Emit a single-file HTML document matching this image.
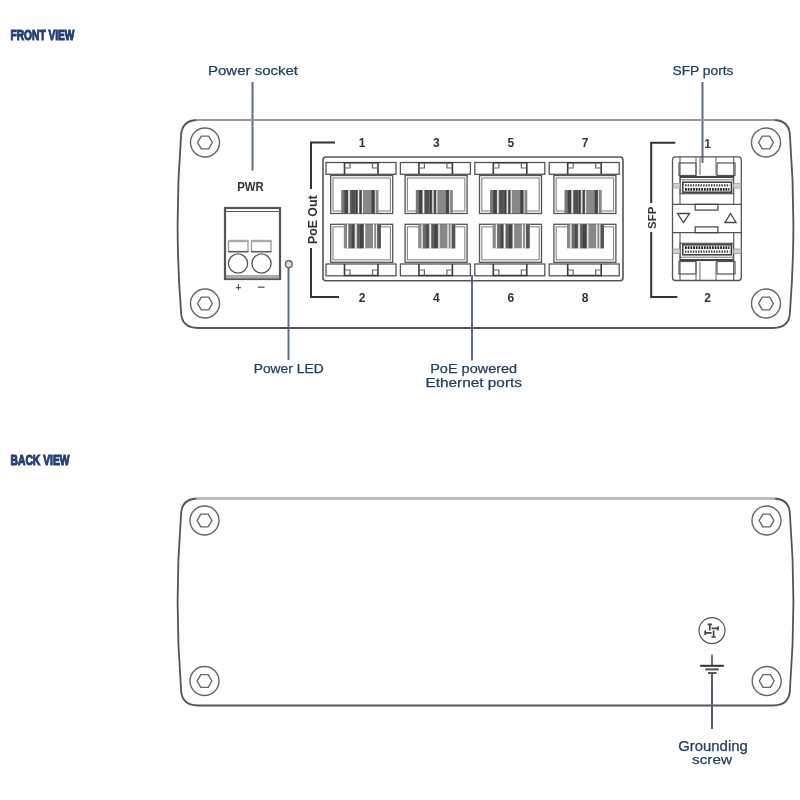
<!DOCTYPE html><html><head><meta charset="utf-8"><style>html,body{margin:0;padding:0;background:#fff;width:800px;height:800px;overflow:hidden}svg{display:block;will-change:transform}text{font-family:"Liberation Sans",sans-serif}</style></head><body>
<svg width="800" height="800" viewBox="0 0 800 800">
<rect width="800" height="800" fill="#fff"/>
<text x="10.5" y="40" font-size="15.2" font-weight="bold" fill="#233f74" stroke="#233f74" stroke-width="1.15" textLength="64" lengthAdjust="spacingAndGlyphs">FRONT VIEW</text>
<text x="10.5" y="465" font-size="15.2" font-weight="bold" fill="#233f74" stroke="#233f74" stroke-width="1.15" textLength="59" lengthAdjust="spacingAndGlyphs">BACK VIEW</text>
<text x="253" y="75.3" font-size="13.6" fill="#23405f" stroke="#23405f" stroke-width="0.25" text-anchor="middle" textLength="90" lengthAdjust="spacingAndGlyphs">Power socket</text>
<text x="703" y="75.4" font-size="13.6" fill="#23405f" stroke="#23405f" stroke-width="0.25" text-anchor="middle" textLength="61" lengthAdjust="spacingAndGlyphs">SFP ports</text>
<text x="288.7" y="372.5" font-size="13.6" fill="#23405f" stroke="#23405f" stroke-width="0.25" text-anchor="middle" textLength="70" lengthAdjust="spacingAndGlyphs">Power LED</text>
<text x="473.7" y="372.8" font-size="13.6" fill="#23405f" stroke="#23405f" stroke-width="0.25" text-anchor="middle" textLength="87" lengthAdjust="spacingAndGlyphs">PoE powered</text>
<text x="473.7" y="386.6" font-size="13.6" fill="#23405f" stroke="#23405f" stroke-width="0.25" text-anchor="middle" textLength="96.6" lengthAdjust="spacingAndGlyphs">Ethernet ports</text>
<text x="713" y="751" font-size="14.2" fill="#23405f" stroke="#23405f" stroke-width="0.25" text-anchor="middle" textLength="69.5" lengthAdjust="spacingAndGlyphs">Grounding</text>
<text x="712" y="763.5" font-size="13.6" fill="#23405f" stroke="#23405f" stroke-width="0.25" text-anchor="middle" textLength="40" lengthAdjust="spacingAndGlyphs">screw</text>
<line x1="252.5" y1="82" x2="252.5" y2="170.5" stroke="#5f6c86" stroke-width="2"/>
<line x1="702.5" y1="82" x2="702.5" y2="163" stroke="#5f6c86" stroke-width="2"/>
<line x1="288.5" y1="268" x2="288.5" y2="360" stroke="#5f6c86" stroke-width="2"/>
<line x1="472" y1="275" x2="472" y2="360.6" stroke="#5f6c86" stroke-width="2"/>
<path d="M 198 120 L 773 120 Q 790 120 790 137 Q 796.8 224.0 790 311 Q 790 328 773 328 L 198 328 Q 181 328 181 311 Q 174.2 224.0 181 137 Q 181 120 198 120 Z" fill="none" stroke="#555" stroke-width="1.8"/>
<line x1="196" y1="120" x2="775" y2="120" stroke="#999" stroke-width="2.2"/>
<circle cx="205" cy="142.5" r="14.5" fill="none" stroke="#666" stroke-width="1.4"/>
<polygon points="212.40,142.50 208.70,148.91 201.30,148.91 197.60,142.50 201.30,136.09 208.70,136.09" fill="none" stroke="#666" stroke-width="1.4" stroke-linejoin="round"/>
<circle cx="766" cy="142.5" r="14.5" fill="none" stroke="#666" stroke-width="1.4"/>
<polygon points="773.40,142.50 769.70,148.91 762.30,148.91 758.60,142.50 762.30,136.09 769.70,136.09" fill="none" stroke="#666" stroke-width="1.4" stroke-linejoin="round"/>
<circle cx="205" cy="303.5" r="14.5" fill="none" stroke="#666" stroke-width="1.4"/>
<polygon points="212.40,303.50 208.70,309.91 201.30,309.91 197.60,303.50 201.30,297.09 208.70,297.09" fill="none" stroke="#666" stroke-width="1.4" stroke-linejoin="round"/>
<circle cx="766" cy="303.5" r="14.5" fill="none" stroke="#666" stroke-width="1.4"/>
<polygon points="773.40,303.50 769.70,309.91 762.30,309.91 758.60,303.50 762.30,297.09 769.70,297.09" fill="none" stroke="#666" stroke-width="1.4" stroke-linejoin="round"/>
<text x="250.5" y="191.3" font-size="12.2" font-weight="bold" fill="#333" text-anchor="middle" textLength="26.5" lengthAdjust="spacingAndGlyphs">PWR</text>
<rect x="225" y="208" width="55" height="71" fill="none" stroke="#555" stroke-width="2.2"/>
<line x1="225" y1="211.5" x2="280" y2="211.5" stroke="#555" stroke-width="1.2"/>
<line x1="225" y1="276" x2="280" y2="276" stroke="#555" stroke-width="1.2"/>
<rect x="228.5" y="241" width="19.5" height="10.5" fill="none" stroke="#999" stroke-width="1.3"/>
<rect x="251.5" y="241" width="19.5" height="10.5" fill="none" stroke="#999" stroke-width="1.3"/>
<line x1="228" y1="241" x2="248.5" y2="241" stroke="#aaa" stroke-width="2.4"/>
<line x1="251" y1="241" x2="271.5" y2="241" stroke="#aaa" stroke-width="2.4"/>
<line x1="228" y1="251.8" x2="248.5" y2="251.8" stroke="#555" stroke-width="1.3"/>
<line x1="251" y1="251.8" x2="271.5" y2="251.8" stroke="#555" stroke-width="1.3"/>
<rect x="226" y="275.5" width="53" height="3" fill="#aaa"/>
<circle cx="238" cy="263.5" r="9.6" fill="none" stroke="#555" stroke-width="1.3"/>
<circle cx="261.5" cy="263.5" r="9.6" fill="none" stroke="#555" stroke-width="1.3"/>
<text x="238.3" y="291" font-size="10" font-weight="bold" fill="#555" text-anchor="middle">+</text>
<line x1="258" y1="287.2" x2="264.5" y2="287.2" stroke="#666" stroke-width="1.4"/>
<circle cx="288.8" cy="264.2" r="3.4" fill="#ddd" stroke="#666" stroke-width="1.4"/>
<path d="M 335 142.5 L 311 142.5 L 311 189" fill="none" stroke="#333" stroke-width="2"/>
<path d="M 311 248 L 311 297 L 339 297" fill="none" stroke="#333" stroke-width="2"/>
<text transform="translate(316.8 219.7) rotate(-90)" font-size="12.6" font-weight="bold" fill="#333" text-anchor="middle" textLength="48.5" lengthAdjust="spacingAndGlyphs">PoE Out</text>
<rect x="323" y="157" width="300" height="123.7" rx="3" fill="none" stroke="#555" stroke-width="1.6"/>
<rect x="326.0" y="162.5" width="70" height="11.8" fill="none" stroke="#555" stroke-width="1.3"/>
<path d="M 344.5 174 L 344.5 162.8 L 378.0 162.8 L 378.0 174" fill="none" stroke="#3a3a3a" stroke-width="1.6"/>
<path d="M 344.5 168 H 350.0 V 162.8 M 378.0 168 H 372.5 V 162.8" fill="none" stroke="#666" stroke-width="1.2"/>
<rect x="330.7" y="175.5" width="62" height="38" fill="none" stroke="#555" stroke-width="1.3"/>
<rect x="333.0" y="178" width="57.4" height="33" fill="none" stroke="#888" stroke-width="1.1"/>
<rect x="330.7" y="224.3" width="62" height="38" fill="none" stroke="#555" stroke-width="1.3"/>
<rect x="333.0" y="226.8" width="57.4" height="33" fill="none" stroke="#888" stroke-width="1.1"/>
<rect x="341.5" y="190" width="37" height="23.3" fill="#888"/>
<rect x="341.5" y="190" width="3.0" height="23.3" fill="#777"/>
<rect x="344.5" y="190" width="3.5" height="23.3" fill="#444"/>
<rect x="350.5" y="190" width="4.5" height="23.3" fill="#505050"/>
<rect x="355.5" y="190" width="1.8" height="23.3" fill="#3a3a3a"/>
<rect x="359.7" y="190" width="1.8" height="23.3" fill="#444"/>
<rect x="371.5" y="190" width="3.0" height="23.3" fill="#444"/>
<rect x="348.3" y="190" width="1.4" height="23.3" fill="#f4f4f4"/>
<rect x="358.0" y="190" width="1.0" height="23.3" fill="#f4f4f4"/>
<rect x="362.0" y="190" width="1.0" height="23.3" fill="#f4f4f4"/>
<rect x="375.0" y="190" width="0.7" height="23.3" fill="#f4f4f4"/>
<rect x="343.8" y="224.3" width="37" height="24" fill="#888"/>
<rect x="348.3" y="224.3" width="3.5" height="24" fill="#6a6a6a"/>
<rect x="351.8" y="224.3" width="2.5" height="24" fill="#484848"/>
<rect x="357.3" y="224.3" width="2.5" height="24" fill="#5e5e5e"/>
<rect x="359.8" y="224.3" width="3.5" height="24" fill="#444"/>
<rect x="377.3" y="224.3" width="3.5" height="24" fill="#555"/>
<rect x="347.0" y="224.3" width="1.3" height="24" fill="#f4f4f4"/>
<rect x="355.1" y="224.3" width="1.5" height="24" fill="#f4f4f4"/>
<rect x="364.0" y="224.3" width="1.3" height="24" fill="#f4f4f4"/>
<rect x="373.0" y="224.3" width="1.3" height="24" fill="#f4f4f4"/>
<rect x="376.1" y="224.3" width="1.0" height="24" fill="#f4f4f4"/>
<rect x="326.0" y="264" width="70" height="11.8" fill="none" stroke="#555" stroke-width="1.3"/>
<path d="M 344.5 264 L 344.5 275.5 L 378.0 275.5 L 378.0 264" fill="none" stroke="#3a3a3a" stroke-width="1.6"/>
<path d="M 344.5 270 H 350.0 V 275.5 M 378.0 270 H 372.5 V 275.5" fill="none" stroke="#666" stroke-width="1.2"/>
<rect x="400.4" y="162.5" width="70" height="11.8" fill="none" stroke="#555" stroke-width="1.3"/>
<path d="M 418.9 174 L 418.9 162.8 L 452.4 162.8 L 452.4 174" fill="none" stroke="#3a3a3a" stroke-width="1.6"/>
<path d="M 418.9 168 H 424.4 V 162.8 M 452.4 168 H 446.9 V 162.8" fill="none" stroke="#666" stroke-width="1.2"/>
<rect x="405.09999999999997" y="175.5" width="62" height="38" fill="none" stroke="#555" stroke-width="1.3"/>
<rect x="407.4" y="178" width="57.4" height="33" fill="none" stroke="#888" stroke-width="1.1"/>
<rect x="405.09999999999997" y="224.3" width="62" height="38" fill="none" stroke="#555" stroke-width="1.3"/>
<rect x="407.4" y="226.8" width="57.4" height="33" fill="none" stroke="#888" stroke-width="1.1"/>
<rect x="415.9" y="190" width="37" height="23.3" fill="#888"/>
<rect x="415.9" y="190" width="3.0" height="23.3" fill="#777"/>
<rect x="418.9" y="190" width="3.5" height="23.3" fill="#444"/>
<rect x="424.9" y="190" width="4.5" height="23.3" fill="#505050"/>
<rect x="429.9" y="190" width="1.8" height="23.3" fill="#3a3a3a"/>
<rect x="434.1" y="190" width="1.8" height="23.3" fill="#444"/>
<rect x="445.9" y="190" width="3.0" height="23.3" fill="#444"/>
<rect x="422.7" y="190" width="1.4" height="23.3" fill="#f4f4f4"/>
<rect x="432.4" y="190" width="1.0" height="23.3" fill="#f4f4f4"/>
<rect x="436.4" y="190" width="1.0" height="23.3" fill="#f4f4f4"/>
<rect x="449.4" y="190" width="0.7" height="23.3" fill="#f4f4f4"/>
<rect x="418.2" y="224.3" width="37" height="24" fill="#888"/>
<rect x="422.7" y="224.3" width="3.5" height="24" fill="#6a6a6a"/>
<rect x="426.2" y="224.3" width="2.5" height="24" fill="#484848"/>
<rect x="431.7" y="224.3" width="2.5" height="24" fill="#5e5e5e"/>
<rect x="434.2" y="224.3" width="3.5" height="24" fill="#444"/>
<rect x="451.7" y="224.3" width="3.5" height="24" fill="#555"/>
<rect x="421.4" y="224.3" width="1.3" height="24" fill="#f4f4f4"/>
<rect x="429.5" y="224.3" width="1.5" height="24" fill="#f4f4f4"/>
<rect x="438.4" y="224.3" width="1.3" height="24" fill="#f4f4f4"/>
<rect x="447.4" y="224.3" width="1.3" height="24" fill="#f4f4f4"/>
<rect x="450.5" y="224.3" width="1.0" height="24" fill="#f4f4f4"/>
<rect x="400.4" y="264" width="70" height="11.8" fill="none" stroke="#555" stroke-width="1.3"/>
<path d="M 418.9 264 L 418.9 275.5 L 452.4 275.5 L 452.4 264" fill="none" stroke="#3a3a3a" stroke-width="1.6"/>
<path d="M 418.9 270 H 424.4 V 275.5 M 452.4 270 H 446.9 V 275.5" fill="none" stroke="#666" stroke-width="1.2"/>
<rect x="474.8" y="162.5" width="70" height="11.8" fill="none" stroke="#555" stroke-width="1.3"/>
<path d="M 493.3 174 L 493.3 162.8 L 526.8 162.8 L 526.8 174" fill="none" stroke="#3a3a3a" stroke-width="1.6"/>
<path d="M 493.3 168 H 498.8 V 162.8 M 526.8 168 H 521.3 V 162.8" fill="none" stroke="#666" stroke-width="1.2"/>
<rect x="479.5" y="175.5" width="62" height="38" fill="none" stroke="#555" stroke-width="1.3"/>
<rect x="481.8" y="178" width="57.4" height="33" fill="none" stroke="#888" stroke-width="1.1"/>
<rect x="479.5" y="224.3" width="62" height="38" fill="none" stroke="#555" stroke-width="1.3"/>
<rect x="481.8" y="226.8" width="57.4" height="33" fill="none" stroke="#888" stroke-width="1.1"/>
<rect x="490.3" y="190" width="37" height="23.3" fill="#888"/>
<rect x="490.3" y="190" width="3.0" height="23.3" fill="#777"/>
<rect x="493.3" y="190" width="3.5" height="23.3" fill="#444"/>
<rect x="499.3" y="190" width="4.5" height="23.3" fill="#505050"/>
<rect x="504.3" y="190" width="1.8" height="23.3" fill="#3a3a3a"/>
<rect x="508.5" y="190" width="1.8" height="23.3" fill="#444"/>
<rect x="520.3" y="190" width="3.0" height="23.3" fill="#444"/>
<rect x="497.1" y="190" width="1.4" height="23.3" fill="#f4f4f4"/>
<rect x="506.8" y="190" width="1.0" height="23.3" fill="#f4f4f4"/>
<rect x="510.8" y="190" width="1.0" height="23.3" fill="#f4f4f4"/>
<rect x="523.8" y="190" width="0.7" height="23.3" fill="#f4f4f4"/>
<rect x="492.6" y="224.3" width="37" height="24" fill="#888"/>
<rect x="497.1" y="224.3" width="3.5" height="24" fill="#6a6a6a"/>
<rect x="500.6" y="224.3" width="2.5" height="24" fill="#484848"/>
<rect x="506.1" y="224.3" width="2.5" height="24" fill="#5e5e5e"/>
<rect x="508.6" y="224.3" width="3.5" height="24" fill="#444"/>
<rect x="526.1" y="224.3" width="3.5" height="24" fill="#555"/>
<rect x="495.8" y="224.3" width="1.3" height="24" fill="#f4f4f4"/>
<rect x="503.9" y="224.3" width="1.5" height="24" fill="#f4f4f4"/>
<rect x="512.8" y="224.3" width="1.3" height="24" fill="#f4f4f4"/>
<rect x="521.8" y="224.3" width="1.3" height="24" fill="#f4f4f4"/>
<rect x="524.9" y="224.3" width="1.0" height="24" fill="#f4f4f4"/>
<rect x="474.8" y="264" width="70" height="11.8" fill="none" stroke="#555" stroke-width="1.3"/>
<path d="M 493.3 264 L 493.3 275.5 L 526.8 275.5 L 526.8 264" fill="none" stroke="#3a3a3a" stroke-width="1.6"/>
<path d="M 493.3 270 H 498.8 V 275.5 M 526.8 270 H 521.3 V 275.5" fill="none" stroke="#666" stroke-width="1.2"/>
<rect x="549.2" y="162.5" width="70" height="11.8" fill="none" stroke="#555" stroke-width="1.3"/>
<path d="M 567.7 174 L 567.7 162.8 L 601.2 162.8 L 601.2 174" fill="none" stroke="#3a3a3a" stroke-width="1.6"/>
<path d="M 567.7 168 H 573.2 V 162.8 M 601.2 168 H 595.7 V 162.8" fill="none" stroke="#666" stroke-width="1.2"/>
<rect x="553.9000000000001" y="175.5" width="62" height="38" fill="none" stroke="#555" stroke-width="1.3"/>
<rect x="556.2" y="178" width="57.4" height="33" fill="none" stroke="#888" stroke-width="1.1"/>
<rect x="553.9000000000001" y="224.3" width="62" height="38" fill="none" stroke="#555" stroke-width="1.3"/>
<rect x="556.2" y="226.8" width="57.4" height="33" fill="none" stroke="#888" stroke-width="1.1"/>
<rect x="564.7" y="190" width="37" height="23.3" fill="#888"/>
<rect x="564.7" y="190" width="3.0" height="23.3" fill="#777"/>
<rect x="567.7" y="190" width="3.5" height="23.3" fill="#444"/>
<rect x="573.7" y="190" width="4.5" height="23.3" fill="#505050"/>
<rect x="578.7" y="190" width="1.8" height="23.3" fill="#3a3a3a"/>
<rect x="582.9" y="190" width="1.8" height="23.3" fill="#444"/>
<rect x="594.7" y="190" width="3.0" height="23.3" fill="#444"/>
<rect x="571.5" y="190" width="1.4" height="23.3" fill="#f4f4f4"/>
<rect x="581.2" y="190" width="1.0" height="23.3" fill="#f4f4f4"/>
<rect x="585.2" y="190" width="1.0" height="23.3" fill="#f4f4f4"/>
<rect x="598.2" y="190" width="0.7" height="23.3" fill="#f4f4f4"/>
<rect x="567.0" y="224.3" width="37" height="24" fill="#888"/>
<rect x="571.5" y="224.3" width="3.5" height="24" fill="#6a6a6a"/>
<rect x="575.0" y="224.3" width="2.5" height="24" fill="#484848"/>
<rect x="580.5" y="224.3" width="2.5" height="24" fill="#5e5e5e"/>
<rect x="583.0" y="224.3" width="3.5" height="24" fill="#444"/>
<rect x="600.5" y="224.3" width="3.5" height="24" fill="#555"/>
<rect x="570.2" y="224.3" width="1.3" height="24" fill="#f4f4f4"/>
<rect x="578.3" y="224.3" width="1.5" height="24" fill="#f4f4f4"/>
<rect x="587.2" y="224.3" width="1.3" height="24" fill="#f4f4f4"/>
<rect x="596.2" y="224.3" width="1.3" height="24" fill="#f4f4f4"/>
<rect x="599.3" y="224.3" width="1.0" height="24" fill="#f4f4f4"/>
<rect x="549.2" y="264" width="70" height="11.8" fill="none" stroke="#555" stroke-width="1.3"/>
<path d="M 567.7 264 L 567.7 275.5 L 601.2 275.5 L 601.2 264" fill="none" stroke="#3a3a3a" stroke-width="1.6"/>
<path d="M 567.7 270 H 573.2 V 275.5 M 601.2 270 H 595.7 V 275.5" fill="none" stroke="#666" stroke-width="1.2"/>
<text x="362.0" y="147.3" font-size="12" font-weight="bold" fill="#333" text-anchor="middle">1</text>
<text x="362.0" y="301.6" font-size="12" font-weight="bold" fill="#333" text-anchor="middle">2</text>
<text x="436.4" y="147.3" font-size="12" font-weight="bold" fill="#333" text-anchor="middle">3</text>
<text x="436.4" y="301.6" font-size="12" font-weight="bold" fill="#333" text-anchor="middle">4</text>
<text x="510.8" y="147.3" font-size="12" font-weight="bold" fill="#333" text-anchor="middle">5</text>
<text x="510.8" y="301.6" font-size="12" font-weight="bold" fill="#333" text-anchor="middle">6</text>
<text x="585.2" y="147.3" font-size="12" font-weight="bold" fill="#333" text-anchor="middle">7</text>
<text x="585.2" y="301.6" font-size="12" font-weight="bold" fill="#333" text-anchor="middle">8</text>
<path d="M 675.3 142.7 L 651.2 142.7 L 651.2 203" fill="none" stroke="#333" stroke-width="2"/>
<path d="M 651.2 232 L 651.2 297 L 677.3 297" fill="none" stroke="#333" stroke-width="2"/>
<text transform="translate(655.5 217.7) rotate(-90)" font-size="11.5" font-weight="bold" fill="#333" text-anchor="middle">SFP</text>
<text x="707.6" y="147.5" font-size="12" font-weight="bold" fill="#444" text-anchor="middle">1</text>
<text x="707.6" y="302" font-size="12" font-weight="bold" fill="#333" text-anchor="middle">2</text>
<rect x="672.5" y="156.8" width="68.8" height="123.7" rx="3" fill="none" stroke="#555" stroke-width="1.3"/>
<g>
<path d="M 680 157 L 680 204.3 M 733.7 157 L 733.7 204.3" stroke="#666" stroke-width="1.2" fill="none"/>
<rect x="679" y="163" width="17" height="12.5" fill="none" stroke="#555" stroke-width="1.2"/>
<rect x="717" y="163" width="18" height="12.5" fill="none" stroke="#555" stroke-width="1.2"/>
<path d="M 696 157 L 696 175 M 700 157 L 700 175 M 716 157 L 716 175" stroke="#666" stroke-width="1" fill="none"/>
<rect x="680.2" y="176.5" width="53.2" height="17.2" fill="none" stroke="#555" stroke-width="1.2"/>
<line x1="680.2" y1="177" x2="733.4" y2="177" stroke="#444" stroke-width="1.8"/>
<line x1="680.2" y1="179.8" x2="733.4" y2="179.8" stroke="#777" stroke-width="1"/>
<rect x="682.8" y="182.2" width="48.6" height="10" fill="none" stroke="#3a3a3a" stroke-width="1.5"/>
<path d="M 685 185.4 L 729.5 185.4" stroke="#444" stroke-width="2.4" stroke-dasharray="1.5 1.1" fill="none"/>
<path d="M 685 189.4 L 729.5 189.4" stroke="#222" stroke-width="2.6" stroke-dasharray="1.8 0.9" fill="none"/>
<rect x="673" y="183.6" width="7" height="4.4" fill="#d0d0d0" stroke="#999" stroke-width="0.8"/>
<rect x="733.5" y="183.6" width="7.5" height="4.4" fill="#d0d0d0" stroke="#999" stroke-width="0.8"/>
<line x1="673" y1="204.3" x2="741" y2="204.3" stroke="#555" stroke-width="1.3"/>
<rect x="695.2" y="204.3" width="22.7" height="5.8" fill="none" stroke="#444" stroke-width="1.2"/>
</g>
<g transform="translate(0 437) scale(1 -1)">
<path d="M 680 157 L 680 204.3 M 733.7 157 L 733.7 204.3" stroke="#666" stroke-width="1.2" fill="none"/>
<rect x="679" y="163" width="17" height="12.5" fill="none" stroke="#555" stroke-width="1.2"/>
<rect x="717" y="163" width="18" height="12.5" fill="none" stroke="#555" stroke-width="1.2"/>
<path d="M 696 157 L 696 175 M 700 157 L 700 175 M 716 157 L 716 175" stroke="#666" stroke-width="1" fill="none"/>
<rect x="680.2" y="176.5" width="53.2" height="17.2" fill="none" stroke="#555" stroke-width="1.2"/>
<line x1="680.2" y1="177" x2="733.4" y2="177" stroke="#444" stroke-width="1.8"/>
<line x1="680.2" y1="179.8" x2="733.4" y2="179.8" stroke="#777" stroke-width="1"/>
<rect x="682.8" y="182.2" width="48.6" height="10" fill="none" stroke="#3a3a3a" stroke-width="1.5"/>
<path d="M 685 185.4 L 729.5 185.4" stroke="#444" stroke-width="2.4" stroke-dasharray="1.5 1.1" fill="none"/>
<path d="M 685 189.4 L 729.5 189.4" stroke="#222" stroke-width="2.6" stroke-dasharray="1.8 0.9" fill="none"/>
<rect x="673" y="183.6" width="7" height="4.4" fill="#d0d0d0" stroke="#999" stroke-width="0.8"/>
<rect x="733.5" y="183.6" width="7.5" height="4.4" fill="#d0d0d0" stroke="#999" stroke-width="0.8"/>
<line x1="673" y1="204.3" x2="741" y2="204.3" stroke="#555" stroke-width="1.3"/>
<rect x="695.2" y="204.3" width="22.7" height="5.8" fill="none" stroke="#444" stroke-width="1.2"/>
</g>
<path d="M 677.5 213.5 L 689.5 213.5 L 683.5 222.5 Z" fill="none" stroke="#444" stroke-width="1.3"/>
<path d="M 725 222.5 L 736 222.5 L 730.5 213.5 Z" fill="none" stroke="#444" stroke-width="1.3"/>
<path d="M 198 498.5 L 773 498.5 Q 790 498.5 790 515.5 Q 796.8 602.0 790 688.5 Q 790 705.5 773 705.5 L 198 705.5 Q 181 705.5 181 688.5 Q 174.2 602.0 181 515.5 Q 181 498.5 198 498.5 Z" fill="none" stroke="#555" stroke-width="1.8"/>
<line x1="196" y1="498.5" x2="775" y2="498.5" stroke="#bbb" stroke-width="3"/>
<circle cx="204.5" cy="520.5" r="14.5" fill="none" stroke="#666" stroke-width="1.4"/>
<polygon points="211.90,520.50 208.20,526.91 200.80,526.91 197.10,520.50 200.80,514.09 208.20,514.09" fill="none" stroke="#666" stroke-width="1.4" stroke-linejoin="round"/>
<circle cx="766.5" cy="520.5" r="14.5" fill="none" stroke="#666" stroke-width="1.4"/>
<polygon points="773.90,520.50 770.20,526.91 762.80,526.91 759.10,520.50 762.80,514.09 770.20,514.09" fill="none" stroke="#666" stroke-width="1.4" stroke-linejoin="round"/>
<circle cx="204.5" cy="681" r="14.5" fill="none" stroke="#666" stroke-width="1.4"/>
<polygon points="211.90,681.00 208.20,687.41 200.80,687.41 197.10,681.00 200.80,674.59 208.20,674.59" fill="none" stroke="#666" stroke-width="1.4" stroke-linejoin="round"/>
<circle cx="766.7" cy="681" r="14.5" fill="none" stroke="#666" stroke-width="1.4"/>
<polygon points="774.10,681.00 770.40,687.41 763.00,687.41 759.30,681.00 763.00,674.59 770.40,674.59" fill="none" stroke="#666" stroke-width="1.4" stroke-linejoin="round"/>
<circle cx="712" cy="630.6" r="13" fill="none" stroke="#555" stroke-width="1.2"/>
<path d="M 709.8 630.6 V 624.3 M 707.6 624.3 H 712 M 711.6 628.4 H 718 M 718 626.2 V 630.6 M 713.6 630.6 V 637 M 711.4 637 H 715.8 M 711.6 632.8 H 705.2 M 705.2 630.6 V 635" stroke="#444" stroke-width="1.7" fill="none"/>
<line x1="712" y1="654.5" x2="712" y2="666" stroke="#444" stroke-width="1.5"/>
<line x1="700.2" y1="665.8" x2="723.8" y2="665.8" stroke="#333" stroke-width="2"/>
<line x1="705.3" y1="669.4" x2="718.8" y2="669.4" stroke="#555" stroke-width="2"/>
<line x1="708" y1="673" x2="716.5" y2="673" stroke="#444" stroke-width="1.8"/>
<line x1="712" y1="673" x2="712" y2="729" stroke="#55606e" stroke-width="2"/>
</svg></body></html>
